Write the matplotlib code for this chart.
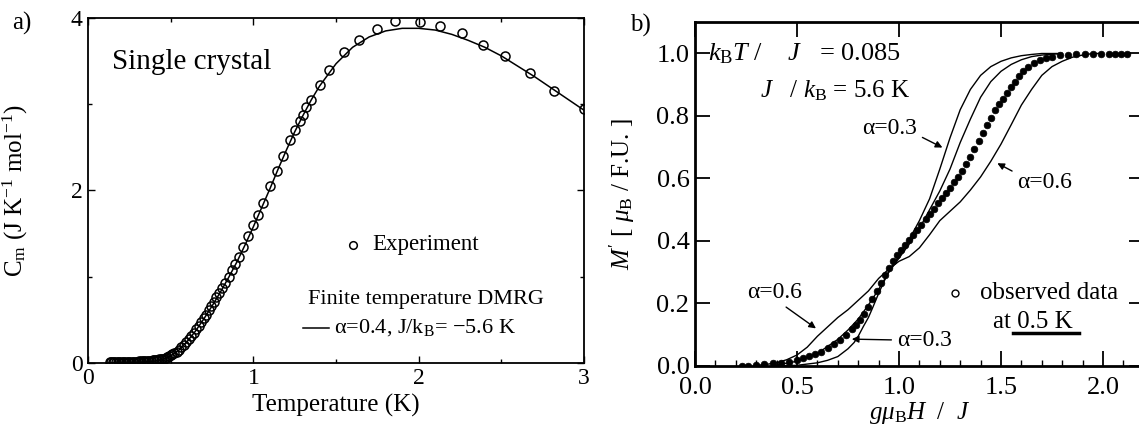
import matplotlib
matplotlib.use("Agg")
import matplotlib.pyplot as plt
from matplotlib.ticker import MultipleLocator


# a) heat capacity, single crystal
exp_T = [0.13, 0.14, 0.15, 0.16, 0.17, 0.18, 0.19, 0.20, 0.21, 0.22,
         0.23, 0.24, 0.25, 0.26, 0.27, 0.28, 0.29, 0.30, 0.31, 0.32,
         0.33, 0.34, 0.35, 0.36, 0.37, 0.38, 0.39, 0.40, 0.41, 0.42,
         0.43, 0.44, 0.45, 0.46, 0.47, 0.48, 0.49, 0.50, 0.51, 0.52,
         0.535, 0.55, 0.565, 0.58, 0.595, 0.61, 0.625, 0.64, 0.655, 0.67,
         0.685, 0.70, 0.715, 0.73, 0.745, 0.76, 0.775, 0.79, 0.81, 0.83,
         0.85, 0.87, 0.89, 0.91, 0.94, 0.97, 1.00, 1.03, 1.06, 1.10,
         1.14, 1.18, 1.22, 1.25, 1.28, 1.30, 1.32, 1.35, 1.40, 1.46,
         1.545, 1.64, 1.75, 1.855, 2.01, 2.13, 2.26, 2.39, 2.52, 2.67,
         2.82, 3.00]
exp_C = [0.01, 0.01, 0.01, 0.01, 0.01, 0.01, 0.01, 0.01, 0.01, 0.01,
         0.01, 0.01, 0.01, 0.01, 0.01, 0.01, 0.01, 0.01, 0.02, 0.02,
         0.02, 0.02, 0.02, 0.02, 0.02, 0.02, 0.03, 0.03, 0.03, 0.03,
         0.04, 0.04, 0.05, 0.05, 0.06, 0.07, 0.08, 0.09, 0.10, 0.11,
         0.13, 0.15, 0.18, 0.21, 0.24, 0.28, 0.31, 0.35, 0.39, 0.43,
         0.47, 0.52, 0.56, 0.61, 0.66, 0.71, 0.76, 0.81, 0.87, 0.93,
         1.00, 1.08, 1.15, 1.23, 1.34, 1.47, 1.60, 1.72, 1.85, 2.05,
         2.22, 2.40, 2.58, 2.70, 2.80, 2.88, 2.97, 3.05, 3.22, 3.40,
         3.60, 3.75, 3.87, 3.97, 3.95, 3.91, 3.83, 3.69, 3.56, 3.36,
         3.15, 2.95]

dmrg_T = [0.13, 0.30, 0.40, 0.45, 0.50, 0.55, 0.60, 0.65, 0.70, 0.75,
          0.80, 0.85, 0.90, 0.95, 1.00, 1.05, 1.10, 1.15, 1.20, 1.25,
          1.30, 1.35, 1.40, 1.50, 1.60, 1.70, 1.80, 1.90, 2.00, 2.10,
          2.20, 2.30, 2.40, 2.50, 2.60, 2.70, 2.80, 2.90, 3.00]
dmrg_C = [0.00, 0.005, 0.02, 0.04, 0.08, 0.15, 0.25, 0.37, 0.51, 0.66,
          0.82, 0.99, 1.17, 1.37, 1.58, 1.80, 2.02, 2.25, 2.47, 2.68,
          2.87, 3.05, 3.21, 3.47, 3.66, 3.78, 3.85, 3.88, 3.88, 3.86,
          3.81, 3.74, 3.66, 3.56, 3.44, 3.32, 3.19, 3.06, 2.93]

# b) magnetization curve
obs_H = [0.23, 0.26, 0.30, 0.34, 0.38, 0.42, 0.46, 0.50, 0.53, 0.56,
         0.59, 0.62, 0.65, 0.68, 0.71, 0.74, 0.77, 0.79, 0.81, 0.83,
         0.85, 0.87, 0.89, 0.91, 0.93, 0.95, 0.97, 0.99, 1.01, 1.03,
         1.05, 1.07, 1.09, 1.11, 1.13, 1.15, 1.17, 1.19, 1.21, 1.23,
         1.25, 1.27, 1.29, 1.31, 1.33, 1.35, 1.37, 1.39, 1.41, 1.43,
         1.45, 1.47, 1.49, 1.51, 1.53, 1.55, 1.57, 1.59, 1.61, 1.63,
         1.66, 1.69, 1.72, 1.75, 1.79, 1.83, 1.87, 1.91, 1.95, 1.99,
         2.03, 2.06, 2.09, 2.12]
obs_M = [0.0, 0.0, 0.003, 0.005, 0.008, 0.011, 0.014, 0.019, 0.025, 0.031,
         0.038, 0.046, 0.057, 0.069, 0.083, 0.10, 0.117, 0.13, 0.147, 0.165,
         0.19, 0.215, 0.24, 0.265, 0.29, 0.315, 0.335, 0.355, 0.372, 0.388,
         0.404, 0.42, 0.436, 0.452, 0.469, 0.486, 0.503, 0.52, 0.537, 0.554,
         0.571, 0.588, 0.605, 0.625, 0.646, 0.67, 0.694, 0.72, 0.745, 0.77,
         0.795, 0.818, 0.838, 0.855, 0.873, 0.892, 0.91, 0.928, 0.945, 0.957,
         0.97, 0.979, 0.985, 0.99, 0.994, 0.996, 0.998, 0.999, 1.0, 1.0,
         1.0, 1.0, 1.0, 1.0]

a03_H = [0.40, 0.50, 0.60, 0.65, 0.70, 0.75, 0.78, 0.80, 0.825, 0.85,
         0.87, 0.90, 0.93, 0.96, 1.00, 1.05, 1.10, 1.15, 1.20, 1.25,
         1.30, 1.35, 1.40, 1.45, 1.50, 1.55, 1.60, 1.65, 1.70, 1.80]
a03_M = [0.0, 0.002, 0.01, 0.018, 0.03, 0.055, 0.075, 0.095, 0.126, 0.155,
         0.185, 0.232, 0.275, 0.315, 0.35, 0.405, 0.465, 0.535, 0.63, 0.73,
         0.82, 0.885, 0.93, 0.958, 0.975, 0.986, 0.993, 0.997, 1.0, 1.0]

a04_H = [0.40, 0.50, 0.60, 0.70, 0.75, 0.80, 0.85, 0.90, 0.95, 1.00,
         1.05, 1.10, 1.15, 1.20, 1.25, 1.30, 1.35, 1.40, 1.45, 1.50,
         1.55, 1.60, 1.65, 1.70, 1.80]
a04_M = [0.003, 0.015, 0.04, 0.085, 0.115, 0.15, 0.195, 0.245, 0.30, 0.345,
         0.39, 0.44, 0.50, 0.56, 0.63, 0.715, 0.79, 0.86, 0.91, 0.943,
         0.965, 0.98, 0.99, 0.995, 1.0]

a06_H = [0.30, 0.35, 0.40, 0.45, 0.50, 0.55, 0.60, 0.65, 0.70, 0.75,
         0.80, 0.85, 0.90, 0.95, 1.00, 1.05, 1.10, 1.15, 1.20, 1.25,
         1.30, 1.35, 1.40, 1.45, 1.50, 1.55, 1.60, 1.65, 1.70, 1.75,
         1.80, 1.85, 1.90, 1.95, 2.00]
a06_M = [0.002, 0.005, 0.01, 0.02, 0.035, 0.06, 0.095, 0.125, 0.155, 0.18,
         0.21, 0.24, 0.28, 0.31, 0.335, 0.35, 0.378, 0.42, 0.465, 0.495,
         0.525, 0.563, 0.605, 0.655, 0.71, 0.772, 0.835, 0.885, 0.93, 0.958,
         0.975, 0.988, 0.995, 1.0, 1.0]


plt.rcParams["font.family"] = ["Liberation Serif", "DejaVu Serif"]
plt.rcParams["mathtext.fontset"] = "custom"
plt.rcParams["mathtext.rm"] = "Liberation Serif"
plt.rcParams["mathtext.it"] = "Liberation Serif:italic"
plt.rcParams["mathtext.bf"] = "Liberation Serif:bold"


def plot_heat_capacity(ax):
    ax.plot(dmrg_T, dmrg_C, color="black", lw=1.1)
    ax.plot(exp_T, exp_C, linestyle="none", marker="o", ms=6.5,
            mfc="none", mec="black", mew=1.1)

    ax.set_xlim(0, 3)
    ax.set_ylim(0, 4)
    ax.xaxis.set_major_locator(MultipleLocator(1))
    ax.xaxis.set_minor_locator(MultipleLocator(0.5))
    ax.yaxis.set_major_locator(MultipleLocator(2))
    ax.yaxis.set_minor_locator(MultipleLocator(1))
    ax.tick_params(which="both", direction="in", top=True, right=True,
                   labelsize=17, width=1)
    ax.tick_params(which="major", length=5, pad=4)
    ax.tick_params(which="minor", length=3)
    for s in ax.spines.values():
        s.set_linewidth(1.3)

    ax.set_xlabel("Temperature (K)", fontsize=18, labelpad=3)
    ax.set_ylabel(r"C$_{\rm m}$ (J K$^{-1}$ mol$^{-1}$)", fontsize=18)
    ax.yaxis.set_label_coords(-0.117, 0.5)

    # подписи внутри панели
    ax.text(0.145, 3.49, "Single crystal", fontsize=21, va="center")
    ax.plot([1.60], [1.37], marker="o", ms=5.5, mfc="none", mec="black", mew=1.1)
    ax.text(1.72, 1.37, "Experiment", fontsize=16.5, va="center")
    ax.text(1.33, 0.74, "Finite temperature DMRG", fontsize=16, va="center")
    ax.plot([1.30, 1.46], [0.41, 0.41], color="black", lw=1.1)
    ax.text(1.49, 0.41, r"α=0.4, J/k$_{\rm B}$= −5.6 K", fontsize=16, va="center")


def plot_magnetization(ax):
    for h, m in [(a03_H, a03_M), (a04_H, a04_M), (a06_H, a06_M)]:
        ax.plot(h, m, color="black", lw=1.0)
    ax.plot(obs_H, obs_M, linestyle="none", marker="o", ms=4.8,
            mfc="black", mec="black", mew=0.5)

    ax.set_xlim(0, 2.2)
    ax.set_ylim(0, 1.1)
    ax.xaxis.set_major_locator(MultipleLocator(0.5))
    ax.xaxis.set_minor_locator(MultipleLocator(0.1))
    ax.yaxis.set_major_locator(MultipleLocator(0.2))
    ax.xaxis.set_major_formatter("{x:.1f}")
    ax.yaxis.set_major_formatter("{x:.1f}")
    ax.tick_params(which="major", direction="in", top=True, right=True,
                   labelsize=19, length=11, width=1.3, pad=4)
    ax.tick_params(axis="x", which="major", pad=8)
    ax.tick_params(which="minor", direction="in", top=False, length=4, width=1)
    for s in ax.spines.values():
        s.set_linewidth(2)

    ax.set_xlabel(r"$g\mu_{\rm B}H$  /  $J$", fontsize=18, labelpad=1)
    ax.set_ylabel(r"$M'$ [ $\mu_{\rm B}$ / F.U. ]", fontsize=18)
    ax.yaxis.set_label_coords(-0.13, 0.5)

    ax.text(0.065, 1.0, r"$k_{\rm B}T$ /    $J$   = 0.085", fontsize=19, va="center")
    ax.text(0.32, 0.882, r"$J$   / $k_{\rm B}$ = 5.6 K", fontsize=18, va="center")

    arrow = dict(arrowstyle="-|>", color="black", lw=1.0, mutation_scale=10)
    ax.annotate("α=0.3", xy=(1.225, 0.695), xytext=(0.82, 0.76), fontsize=17,
                va="center", arrowprops=dict(arrow, relpos=(1.0, 0.2)))
    ax.annotate("α=0.6", xy=(1.47, 0.653), xytext=(1.58, 0.588), fontsize=17,
                va="center", arrowprops=dict(arrow, relpos=(0.0, 0.9)))
    ax.annotate("α=0.6", xy=(0.604, 0.115), xytext=(0.255, 0.236), fontsize=17,
                va="center", arrowprops=dict(arrow, relpos=(0.6, 0.0)))
    ax.annotate("α=0.3", xy=(0.755, 0.086), xytext=(0.99, 0.083), fontsize=17,
                va="center", arrowprops=dict(arrow, relpos=(0.0, 0.5)))

    ax.plot([1.275], [0.233], marker="o", ms=5, mfc="none", mec="black", mew=1)
    ax.text(1.397, 0.233, "observed data", fontsize=18, va="center")
    ax.text(1.46, 0.14, "at 0.5 K", fontsize=18, va="center")
    ax.plot([1.56, 1.88], [0.105, 0.105], color="black", lw=2.5)


def main():
    fig = plt.figure(figsize=(11.39, 4.28), dpi=100)
    ax_a = fig.add_axes([0.0773, 0.152, 0.4355, 0.806])
    ax_b = fig.add_axes([0.6102, 0.145, 0.394, 0.803])

    plot_heat_capacity(ax_a)
    plot_magnetization(ax_b)

    fig.text(0.011, 0.945, "a)", fontsize=18, va="center")
    fig.text(0.553, 0.94, "b)", fontsize=18, va="center")

    fig.savefig("out.png", dpi=100)
    plt.close(fig)


if __name__ == "__main__":
    main()
